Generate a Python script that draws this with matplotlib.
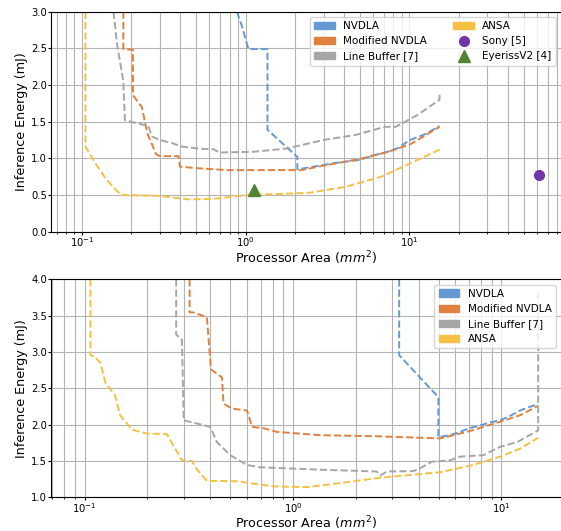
import numpy as np
import matplotlib
matplotlib.use("Agg")
import matplotlib.pyplot as plt
from matplotlib.patches import Patch
from matplotlib.lines import Line2D

# colours
c_nvdla = '#6699d3'
c_mod = '#e0813f'
c_lb = '#a6a6a6'
c_ansa = '#f6c142'
c_sony = '#7234a6'
c_eye = '#548235'

# ---- top panel data (area mm^2, energy mJ) ----
top_nvdla_x = [0.885, 0.95, 1.04, 1.36, 1.36, 2.07, 2.07, 2.2, 3.0, 3.6, 5.0, 6.0, 7.4, 8.5, 10.1, 12.5, 15.3]
top_nvdla_y = [3.0, 2.8, 2.49, 2.49, 1.39, 1.02, 0.85, 0.86, 0.91, 0.94, 0.98, 1.04, 1.09, 1.14, 1.25, 1.33, 1.44]

top_mod_x = [0.179, 0.179, 0.205, 0.205, 0.232, 0.251, 0.284, 0.30, 0.389, 0.397, 0.527, 0.769, 2.06, 2.2, 2.98, 4.96, 7.44, 10.1, 15.3]
top_mod_y = [3.0, 2.49, 2.48, 1.86, 1.70, 1.34, 1.055, 1.03, 1.03, 0.886, 0.863, 0.84, 0.84, 0.84, 0.90, 0.99, 1.09, 1.19, 1.43]

top_lb_x = [0.156, 0.164, 0.179, 0.183, 0.255, 0.267, 0.30, 0.354, 0.408, 0.53, 0.637, 0.69, 1.12, 1.79, 2.98, 4.71, 7.08, 8.25, 11.2, 15.3, 15.3]
top_lb_y = [3.0, 2.55, 2.05, 1.52, 1.44, 1.30, 1.25, 1.21, 1.16, 1.13, 1.125, 1.08, 1.09, 1.135, 1.25, 1.32, 1.43, 1.43, 1.59, 1.80, 1.875]

top_ansa_x = [0.105, 0.105, 0.1096, 0.121, 0.141, 0.173, 0.288, 0.455, 0.649, 1.03, 2.43, 4.05, 6.73, 10.1, 15.3]
top_ansa_y = [3.0, 1.16, 1.09, 0.93, 0.71, 0.50, 0.49, 0.44, 0.45, 0.50, 0.53, 0.61, 0.75, 0.93, 1.12]

sony_x = [62.4]
sony_y = [0.78]
eyeriss_x = [1.13]
eyeriss_y = [0.57]

# ---- bottom panel data ----
bot_nvdla_x = [3.23, 3.23, 4.90, 4.98, 4.98, 5.6, 6.34, 7.0, 7.9, 8.8, 9.86, 11.0, 12.3, 13.5, 15.0]
bot_nvdla_y = [4.0, 2.955, 2.40, 2.35, 1.83, 1.85, 1.90, 1.95, 1.99, 2.03, 2.06, 2.12, 2.195, 2.24, 2.28]

bot_mod_x = [0.319, 0.319, 0.331, 0.386, 0.404, 0.456, 0.464, 0.509, 0.601, 0.636, 0.723, 0.838, 1.35, 2.5, 5.08, 6.82, 9.86, 12.3, 15.0]
bot_mod_y = [4.0, 3.545, 3.545, 3.48, 2.76, 2.65, 2.29, 2.22, 2.195, 1.97, 1.95, 1.90, 1.855, 1.84, 1.81, 1.90, 2.04, 2.13, 2.26]

bot_lb_x = [0.275, 0.275, 0.293, 0.299, 0.401, 0.431, 0.50, 0.601, 0.697, 1.35, 2.52, 2.62, 2.82, 3.78, 4.07, 4.64, 5.67, 6.34, 8.2, 9.86, 11.9, 15.0, 15.0]
bot_lb_y = [4.0, 3.24, 3.17, 2.06, 1.97, 1.76, 1.58, 1.445, 1.413, 1.38, 1.355, 1.30, 1.355, 1.36, 1.40, 1.49, 1.51, 1.56, 1.58, 1.695, 1.76, 1.92, 3.81]

bot_ansa_x = [0.1066, 0.1066, 0.111, 0.119, 0.1257, 0.140, 0.148, 0.169, 0.199, 0.248, 0.272, 0.293, 0.327, 0.346, 0.386, 0.538, 0.806, 1.17, 1.68, 2.62, 5.08, 7.34, 9.86, 12.3, 15.0]
bot_ansa_y = [4.0, 2.955, 2.94, 2.85, 2.58, 2.40, 2.13, 1.93, 1.877, 1.87, 1.67, 1.51, 1.50, 1.38, 1.227, 1.22, 1.15, 1.14, 1.195, 1.27, 1.345, 1.445, 1.56, 1.67, 1.82]

labels = ['NVDLA', 'Modified NVDLA', 'Line Buffer [7]', 'ANSA']
line_colors = [c_nvdla, c_mod, c_lb, c_ansa]

LBL = 9.2
TCK = 7.2
LEG = 7.5
LW = 1.4


def style_axes(ax, xlim, ylim, yticks):
    ax.set_xscale('log')
    ax.set_xlim(*xlim)
    ax.set_ylim(*ylim)
    ax.set_yticks(yticks)
    ax.set_yticklabels(['%.1f' % v for v in yticks])
    ax.grid(which='both', axis='both', color='#b4b4b4', lw=0.8)
    ax.set_axisbelow(True)
    ax.tick_params(which='major', labelsize=TCK, length=2, pad=0.8)
    ax.tick_params(which='minor', length=1.5)
    ax.spines['right'].set_visible(False)
    ax.set_xlabel('Processor Area ($mm^2$)', fontsize=LBL)
    ax.xaxis.set_label_coords(0.5, -0.08)
    ax.set_ylabel('Inference Energy (mJ)', fontsize=LBL, labelpad=2)


fig = plt.figure(figsize=(5.61, 5.31), dpi=100)
ax1 = fig.add_axes([51 / 561, 1 - 231.7 / 531, 1 - 51 / 561, 220 / 531])
ax2 = fig.add_axes([51 / 561, 1 - 497.3 / 531, 1 - 51 / 561, 218 / 531])

# top
for xs, ys, c in zip([top_nvdla_x, top_mod_x, top_lb_x, top_ansa_x],
                     [top_nvdla_y, top_mod_y, top_lb_y, top_ansa_y], line_colors):
    ax1.plot(xs, ys, '--', color=c, lw=LW)
ax1.plot(sony_x, sony_y, 'o', color=c_sony, ms=7)
ax1.plot(eyeriss_x, eyeriss_y, '^', color=c_eye, ms=8)
style_axes(ax1, (0.0647, 84.5), (0, 3.0), np.arange(0, 3.01, 0.5))

h1 = [Patch(color=c) for c in line_colors]
h1 += [Line2D([], [], ls='', marker='o', color=c_sony, ms=7),
       Line2D([], [], ls='', marker='^', color=c_eye, ms=8)]
ax1.legend(h1, labels + ['Sony [5]', 'EyerissV2 [4]'], ncol=2, loc='upper right',
           fontsize=LEG, columnspacing=2.5)

# bottom
for xs, ys, c in zip([bot_nvdla_x, bot_mod_x, bot_lb_x, bot_ansa_x],
                     [bot_nvdla_y, bot_mod_y, bot_lb_y, bot_ansa_y], line_colors):
    ax2.plot(xs, ys, '--', color=c, lw=LW)
style_axes(ax2, (0.069, 19.3), (1.0, 4.0), np.arange(1.0, 4.01, 0.5))
ax2.legend([Patch(color=c) for c in line_colors], labels, loc='upper right', fontsize=LEG)

fig.savefig('out.png', dpi=100)
